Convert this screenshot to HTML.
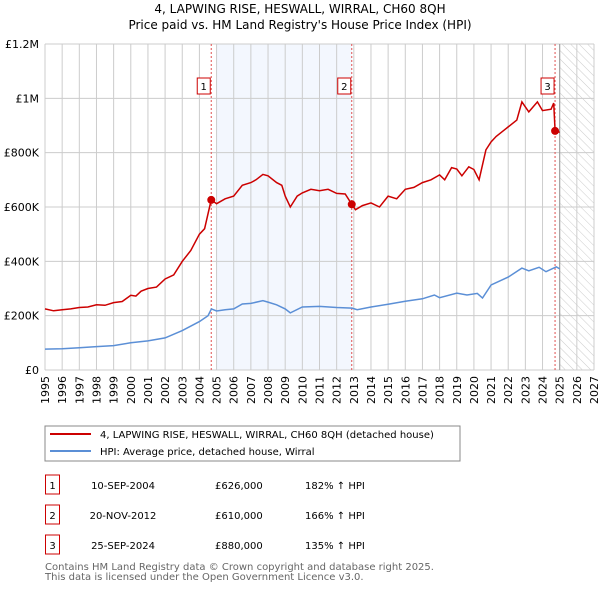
<!DOCTYPE html>
<html><head><meta charset="utf-8"><style>
body{margin:0;background:#fff;width:600px;height:590px;overflow:hidden;font-family:"DejaVu Sans","Liberation Sans",sans-serif}
svg text{font-family:"DejaVu Sans","Liberation Sans",sans-serif}
</style></head><body>
<svg id="c" width="600" height="590">
<defs><pattern id="hatch" width="6" height="6" patternUnits="userSpaceOnUse" patternTransform="rotate(-45)"><line x1="0" y1="0" x2="0" y2="6" stroke="#ccc" stroke-width="1"/></pattern></defs>
<text x="300" y="13" font-size="12" text-anchor="middle">4, LAPWING RISE, HESWALL, WIRRAL, CH60 8QH</text>
<text x="300" y="29" font-size="12" text-anchor="middle">Price paid vs. HM Land Registry's House Price Index (HPI)</text>
<g id="plot"></g>
<rect x="45" y="426" width="415" height="35" fill="#fff" stroke="#888"/>
<line x1="50" y1="434" x2="91" y2="434" stroke="#cc0000" stroke-width="2"/>
<text x="100" y="438" font-size="10">4, LAPWING RISE, HESWALL, WIRRAL, CH60 8QH (detached house)</text>
<line x1="50" y1="451" x2="91" y2="451" stroke="#5b8fd6" stroke-width="2"/>
<text x="100" y="455" font-size="10">HPI: Average price, detached house, Wirral</text>
<g id="table" font-size="10"></g>
<text x="45" y="570" font-size="10" fill="#666">Contains HM Land Registry data © Crown copyright and database right 2025.</text>
<text x="45" y="580" font-size="10" fill="#666">This data is licensed under the Open Government Licence v3.0.</text>
</svg>
<script>
const yearTicks=[1995,1996,1997,1998,1999,2000,2001,2002,2003,2004,2005,2006,2007,2008,2009,2010,2011,2012,2013,2014,2015,2016,2017,2018,2019,2020,2021,2022,2023,2024,2025,2026,2027];
const yTicks=[0,200000,400000,600000,800000,1000000,1200000];
const yTickLabels=["£0","£200K","£400K","£600K","£800K","£1M","£1.2M"];
const redT=[1995,1995.5,1996,1996.5,1997,1997.5,1998,1998.5,1999,1999.5,2000,2000.3,2000.6,2001,2001.5,2002,2002.5,2003,2003.5,2004,2004.3,2004.69,2005,2005.5,2006,2006.5,2007,2007.3,2007.7,2008,2008.5,2008.8,2009,2009.3,2009.7,2010,2010.5,2011,2011.5,2012,2012.5,2012.88,2013.1,2013.5,2014,2014.5,2015,2015.5,2016,2016.5,2017,2017.5,2018,2018.3,2018.7,2019,2019.3,2019.7,2020,2020.3,2020.7,2021,2021.3,2021.7,2022,2022.5,2022.8,2023.2,2023.7,2024,2024.5,2024.65,2024.73,2025];
const redV=[225,218,222,225,230,232,240,238,248,252,275,272,290,300,305,335,350,400,440,500,520,626,612,630,640,680,690,700,720,715,690,680,640,600,640,652,665,660,665,650,648,610,590,605,615,600,640,630,665,672,690,700,718,700,745,740,715,748,738,700,810,840,860,880,895,920,987,950,987,955,960,983,880,875];
const hpiT=[1995,1996,1997,1998,1999,2000,2001,2002,2003,2004,2004.5,2004.7,2005,2005.5,2006,2006.5,2007,2007.7,2008,2008.5,2009,2009.3,2010,2011,2012,2012.9,2013.2,2014,2015,2016,2017,2017.7,2018,2019,2019.6,2020.2,2020.5,2021,2022,2022.8,2023.2,2023.8,2024.2,2024.8,2025];
const hpiV=[77,78,82,86,90,100,107,118,145,178,200,225,217,222,225,243,245,255,250,240,225,210,232,234,230,228,222,232,242,253,262,276,266,283,276,282,265,313,342,375,365,378,362,380,372];
const sales=[{t:2004.69,v:626,l:"1",d:"10-SEP-2004",p:"£626,000",h:"182% ↑ HPI"},{t:2012.88,v:610,l:"2",d:"20-NOV-2012",p:"£610,000",h:"166% ↑ HPI"},{t:2024.73,v:880,l:"3",d:"25-SEP-2024",p:"£880,000",h:"135% ↑ HPI"}];
const NS="http://www.w3.org/2000/svg";
const X0=45,X1=594,Y0=370,Y1=44;
const xs=t=>X0+(t-1995)/(2027-1995)*(X1-X0);
const ys=v=>Y0-v/1200000*(Y0-Y1);
const plot=document.getElementById('plot');
function mk(tag,attrs,parent,txt){const e=document.createElementNS(NS,tag);for(const k in attrs)e.setAttribute(k,attrs[k]);if(txt!==undefined)e.textContent=txt;(parent||plot).appendChild(e);return e;}
let e;
e=mk('rect',{x:xs(2005),y:Y1,width:xs(2012.88)-xs(2005),height:Y0-Y1,fill:'#eef3fd',opacity:0.7});


e=mk('rect',{x:xs(2025),y:Y1,width:X1-xs(2025),height:Y0-Y1,fill:'url(#hatch)'});


yearTicks.forEach(y=>{const g=mk('line',{x1:xs(y),x2:xs(y),y1:Y1,y2:Y0,stroke:'#ccc','stroke-width':1});


const tx=mk('text',{x:0,y:0,'font-size':11,'text-anchor':'end',transform:`translate(${xs(y)+4},${Y0+6}) rotate(-90)`},plot,String(y));

});
yTicks.forEach((v,i)=>{const g=mk('line',{x1:X0,x2:X1,y1:ys(v),y2:ys(v),stroke:'#ccc','stroke-width':1});


const tx=mk('text',{x:39,y:ys(v)+4,'font-size':11,'text-anchor':'end'},plot,yTickLabels[i]);

});
e=mk('line',{x1:xs(2025),x2:xs(2025),y1:Y1,y2:Y0,stroke:'#999','stroke-width':1});


sales.forEach(s=>{const l=mk('line',{x1:xs(s.t),x2:xs(s.t),y1:Y1,y2:Y0,stroke:'#e05050','stroke-width':1,'stroke-dasharray':'2,2'});


const b=mk('rect',{x:xs(s.t)-14,y:78,width:13,height:16,fill:'#fff',stroke:'#cc0000'});


const t=mk('text',{x:xs(s.t)-7.5,y:90,'font-size':10,'text-anchor':'middle'},plot,s.l);

});
const path=(T,V)=>T.map((t,i)=>(i?'L':'M')+xs(t).toFixed(1)+','+ys(V[i]*1000).toFixed(1)).join('');
e=mk('path',{d:path(hpiT,hpiV),fill:'none',stroke:'#5b8fd6','stroke-width':1.5});


e=mk('path',{d:path(redT,redV),fill:'none',stroke:'#cc0000','stroke-width':1.5});


sales.forEach(s=>{const c=mk('circle',{cx:xs(s.t),cy:ys(s.v*1000),r:4,fill:'#cc0000'});

});
const tb=document.getElementById('table');
sales.forEach((s,i)=>{const y=483+i*30;
const r=mk('rect',{x:45.5,y:y-8,width:14,height:19,fill:'#fff',stroke:'#cc0000'},tb);


let t=mk('text',{x:52.5,y:y+6,'text-anchor':'middle'},tb,s.l);


t=mk('text',{x:123,y:y+6,'text-anchor':'middle'},tb,s.d);


t=mk('text',{x:215,y:y+6},tb,s.p);


t=mk('text',{x:305,y:y+6},tb,s.h);

});
</script>
</body></html>
